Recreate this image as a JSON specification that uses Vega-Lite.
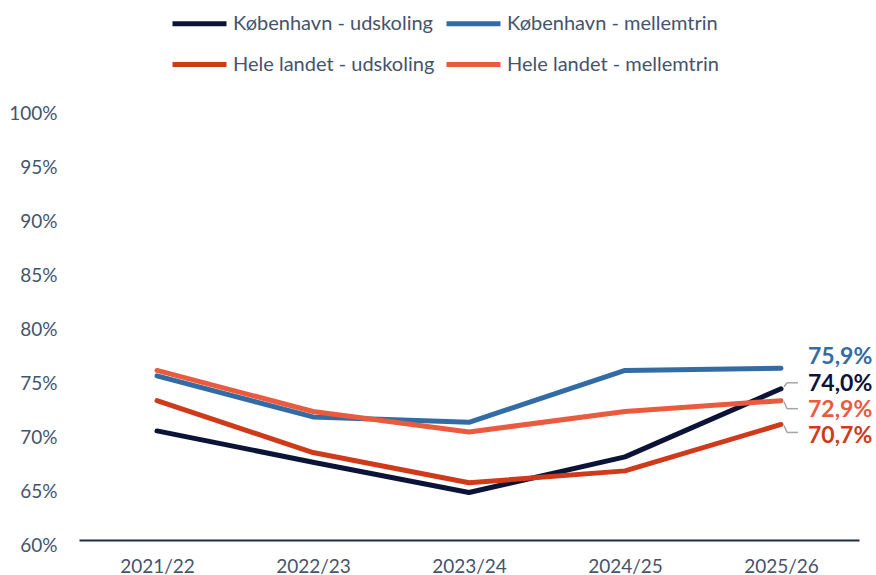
{
  "$schema": "https://vega.github.io/schema/vega-lite/v6.json",
  "width": 780,
  "height": 432,
  "autosize": {"type": "none"},
  "padding": {"left": 79, "top": 108, "right": 17, "bottom": 35},
  "config": {
    "view": {"stroke": null},
    "font": "Lato",
    "locale": {"number": {"decimal": ",", "thousands": ".", "grouping": [3], "currency": ["", " kr."]}}
  },
  "data": {
    "values": [
      {"series": "København - udskoling", "year": "2021/22", "value": 0.701},
      {"series": "København - udskoling", "year": "2022/23", "value": 0.672},
      {"series": "København - udskoling", "year": "2023/24", "value": 0.644},
      {"series": "København - udskoling", "year": "2024/25", "value": 0.677},
      {"series": "København - udskoling", "year": "2025/26", "value": 0.740},
      {"series": "København - mellemtrin", "year": "2021/22", "value": 0.752},
      {"series": "København - mellemtrin", "year": "2022/23", "value": 0.714},
      {"series": "København - mellemtrin", "year": "2023/24", "value": 0.709},
      {"series": "København - mellemtrin", "year": "2024/25", "value": 0.757},
      {"series": "København - mellemtrin", "year": "2025/26", "value": 0.759},
      {"series": "Hele landet - udskoling", "year": "2021/22", "value": 0.729},
      {"series": "Hele landet - udskoling", "year": "2022/23", "value": 0.681},
      {"series": "Hele landet - udskoling", "year": "2023/24", "value": 0.653},
      {"series": "Hele landet - udskoling", "year": "2024/25", "value": 0.664},
      {"series": "Hele landet - udskoling", "year": "2025/26", "value": 0.707},
      {"series": "Hele landet - mellemtrin", "year": "2021/22", "value": 0.757},
      {"series": "Hele landet - mellemtrin", "year": "2022/23", "value": 0.719},
      {"series": "Hele landet - mellemtrin", "year": "2023/24", "value": 0.700},
      {"series": "Hele landet - mellemtrin", "year": "2024/25", "value": 0.719},
      {"series": "Hele landet - mellemtrin", "year": "2025/26", "value": 0.729}
    ]
  },
  "encoding": {
    "x": {
      "field": "year", "type": "ordinal",
      "scale": {"type": "point", "padding": 0.5},
      "axis": {"title": null, "labelAngle": 0, "ticks": false, "domainColor": "#1f2b4a", "domainWidth": 2, "labelFontSize": 19, "labelColor": "#44546a", "labelPadding": 17, "grid": false}
    },
    "y": {
      "field": "value", "type": "quantitative",
      "scale": {"domain": [0.6, 1.0], "nice": false, "zero": false},
      "axis": {"title": null, "domain": false, "ticks": false, "grid": false, "format": ".0%", "values": [0.6, 0.65, 0.7, 0.75, 0.8, 0.85, 0.9, 0.95, 1.0], "labelFontSize": 19, "labelColor": "#44546a", "labelPadding": 22, "labelOffset": 5}
    }
  },
  "layer": [
    {
      "mark": {"type": "line", "strokeWidth": 5, "strokeCap": "round", "strokeJoin": "round"},
      "encoding": {
        "color": {
          "field": "series", "type": "nominal", "sort": null,
          "scale": {
            "domain": ["København - udskoling", "København - mellemtrin", "Hele landet - udskoling", "Hele landet - mellemtrin"],
            "range": ["#0b1437", "#336ca3", "#cf3a1b", "#ea5a3f"]
          },
          "legend": {
            "title": null, "orient": "none", "legendX": 91, "legendY": -114, "direction": "horizontal", "columns": 2,
            "symbolType": "stroke", "symbolSize": 2916, "symbolStrokeWidth": 5, "labelFontSize": 20, "labelColor": "#44546a",
            "labelOffset": 4, "rowPadding": 1, "columnPadding": 1, "labelLimit": 400
          }
        }
      }
    },
    {
      "transform": [{"filter": "datum.year == '2025/26' && datum.series != 'København - mellemtrin'"}],
      "mark": {"type": "rule", "color": "#a6a6a6", "strokeWidth": 1.5, "xOffset": 3, "x2Offset": 6, "yOffset": 1, "y2Offset": 8},
      "encoding": {"x2": {"field": "year"}, "y2": {"field": "value"}, "opacity": {"condition": {"test": "datum.series == 'København - udskoling'", "value": 0}, "value": 1}}
    },
    {
      "transform": [{"filter": "datum.year == '2025/26' && datum.series != 'København - mellemtrin'"}],
      "mark": {"type": "rule", "color": "#a6a6a6", "strokeWidth": 1.5, "xOffset": 6, "x2Offset": 17, "yOffset": 8, "y2Offset": 8},
      "encoding": {"x2": {"field": "year"}, "y2": {"field": "value"}, "opacity": {"condition": {"test": "datum.series == 'København - udskoling'", "value": 0}, "value": 1}}
    },
    {
      "transform": [{"filter": "datum.year == '2025/26' && datum.series == 'København - udskoling'"}],
      "mark": {"type": "rule", "color": "#a6a6a6", "strokeWidth": 1.5, "xOffset": 3, "x2Offset": 6, "yOffset": -2, "y2Offset": -6},
      "encoding": {"x2": {"field": "year"}, "y2": {"field": "value"}}
    },
    {
      "transform": [{"filter": "datum.year == '2025/26' && datum.series == 'København - udskoling'"}],
      "mark": {"type": "rule", "color": "#a6a6a6", "strokeWidth": 1.5, "xOffset": 6, "x2Offset": 17, "yOffset": -6, "y2Offset": -6},
      "encoding": {"x2": {"field": "year"}, "y2": {"field": "value"}}
    },
    {
      "transform": [{"filter": "datum.year == '2025/26' && datum.series == 'København - mellemtrin'"}],
      "mark": {"type": "text", "align": "left", "baseline": "middle", "dx": 27, "dy": -11, "fontSize": 23, "fontWeight": "bold", "color": "#336ca3"},
      "encoding": {"text": {"field": "value", "type": "quantitative", "format": ".1%"}}
    },
    {
      "transform": [{"filter": "datum.year == '2025/26' && datum.series == 'København - udskoling'"}],
      "mark": {"type": "text", "align": "left", "baseline": "middle", "dx": 27, "dy": -5, "fontSize": 23, "fontWeight": "bold", "color": "#0b1437"},
      "encoding": {"text": {"field": "value", "type": "quantitative", "format": ".1%"}}
    },
    {
      "transform": [{"filter": "datum.year == '2025/26' && datum.series == 'Hele landet - mellemtrin'"}],
      "mark": {"type": "text", "align": "left", "baseline": "middle", "dx": 27, "dy": 9, "fontSize": 23, "fontWeight": "bold", "color": "#ea5a3f"},
      "encoding": {"text": {"field": "value", "type": "quantitative", "format": ".1%"}}
    },
    {
      "transform": [{"filter": "datum.year == '2025/26' && datum.series == 'Hele landet - udskoling'"}],
      "mark": {"type": "text", "align": "left", "baseline": "middle", "dx": 27, "dy": 12, "fontSize": 23, "fontWeight": "bold", "color": "#cf3a1b"},
      "encoding": {"text": {"field": "value", "type": "quantitative", "format": ".1%"}}
    }
  ]
}
